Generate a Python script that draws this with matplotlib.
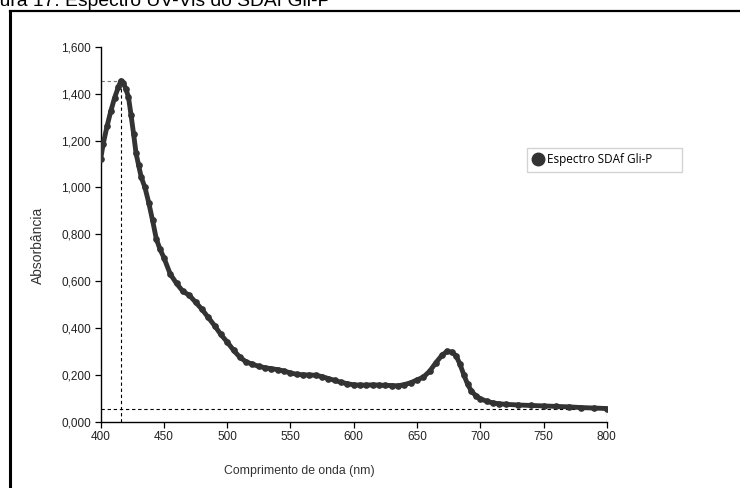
#UV-Vis spectrum of SDAf Gli-P, redrawn from the report figure

#import modules
import matplotlib
matplotlib.use("Agg")
import matplotlib.pyplot as plt
from matplotlib.lines import Line2D
from matplotlib.ticker import FuncFormatter

#Data (wavelength in nm, absorbance)
wavelength = [400, 402, 405, 408, 411, 414, 416, 418, 420, 422, 424, 426, 428, 430,
              432, 435, 438, 441, 444, 447, 450, 455, 460, 465, 470, 475, 480, 485,
              490, 495, 500, 505, 510, 515, 520, 525, 530, 535, 540, 545, 550, 555,
              560, 565, 570, 575, 580, 585, 590, 595, 600, 605, 610, 615, 620, 625,
              630, 635, 640, 645, 650, 655, 660, 665, 670, 674, 678, 681, 684, 687,
              690, 693, 697, 700, 705, 710, 715, 720, 730, 740, 750, 760, 770, 780,
              790, 800]
absorbance = [1.120, 1.185, 1.260, 1.325, 1.382, 1.428, 1.455, 1.445, 1.420, 1.385,
              1.310, 1.230, 1.145, 1.095, 1.045, 1.000, 0.935, 0.860, 0.780, 0.735,
              0.700, 0.630, 0.590, 0.556, 0.540, 0.510, 0.480, 0.445, 0.410, 0.372,
              0.340, 0.305, 0.275, 0.255, 0.245, 0.236, 0.230, 0.226, 0.222, 0.216,
              0.208, 0.202, 0.200, 0.199, 0.198, 0.192, 0.184, 0.176, 0.168, 0.162,
              0.157, 0.156, 0.156, 0.157, 0.156, 0.155, 0.154, 0.153, 0.158, 0.166,
              0.178, 0.190, 0.215, 0.252, 0.285, 0.300, 0.296, 0.280, 0.245, 0.200,
              0.160, 0.130, 0.108, 0.098, 0.087, 0.080, 0.076, 0.074, 0.071, 0.069,
              0.067, 0.065, 0.063, 0.060, 0.058, 0.056]

#Guide lines: peak position and baseline at 800 nm
peak_nm = 416
peak_abs = 1.455
base_abs = 0.056

x_ticks = [400, 450, 500, 550, 600, 650, 700, 750, 800]
y_ticks = [0.0, 0.2, 0.4, 0.6, 0.8, 1.0, 1.2, 1.4, 1.6]

title = "Figura 17: Espectro UV-Vis do SDAf Gli-P"
series_name = "Espectro SDAf Gli-P"

plt.rcParams['font.family'] = ['Liberation Sans', 'DejaVu Sans']

fig = plt.figure(figsize=(7.4, 4.88), dpi=100)
ax = fig.add_axes([0.136, 0.136, 0.684, 0.768])

#Dashed guide lines
dash = (0, (3, 2.5))
ax.plot([peak_nm, peak_nm], [0, peak_abs], color="black", lw=0.8, linestyle=dash, zorder=1)
ax.plot([400, peak_nm], [peak_abs, peak_abs], color="#777777", lw=0.8, linestyle=dash, zorder=1)
ax.plot([400, 800], [base_abs, base_abs], color="black", lw=0.8, linestyle=dash, zorder=1)
ax.plot([800, 800], [0, base_abs], color="black", lw=0.8, linestyle=dash, zorder=1)

#Spectrum
ax.plot(wavelength, absorbance, color="#333333", lw=3.5, marker="o", markersize=3.8,
        solid_capstyle="round", zorder=3, label=series_name)

ax.set_xlim(400, 800)
ax.set_ylim(0, 1.6)
ax.set_xticks(x_ticks)
ax.set_yticks(y_ticks)
ax.yaxis.set_major_formatter(FuncFormatter(lambda v, p: f"{v:.3f}".replace(".", ",")))

for side in ["top", "right"]:
    ax.spines[side].set_visible(False)
for side in ["left", "bottom"]:
    ax.spines[side].set_linewidth(1.0)
ax.tick_params(direction="out", length=4, width=0.9, labelsize=8.5, labelcolor="#222222", pad=3)

ax.set_ylabel("Absorbância", fontsize=10, color="#333333")
ax.yaxis.set_label_coords(-0.11, 0.47)
ax.set_xlabel("Comprimento de onda (nm)", fontsize=8.8, color="#333333")
ax.xaxis.set_label_coords(0.392, -0.115)

#Legend box, stretched to the width of the original one
marker = Line2D([], [], color="#333333", marker="o", markersize=9, linestyle="none")
leg = ax.legend([marker], [series_name], loc="upper left",
                bbox_to_anchor=(0.842, 0.73 - 0.067, 0.306, 0.067), mode="expand",
                borderaxespad=0, frameon=True, fancybox=False, handletextpad=0.3,
                handlelength=1.0, borderpad=0.45,
                prop={"family": ["Open Sans", "DejaVu Sans"], "size": 8.5})
leg.get_frame().set_edgecolor("#c8c8c8")
leg.get_frame().set_linewidth(1.0)

#Outer frame of the report figure (cropped on the right and bottom)
fig.add_artist(Line2D([9.5 / 740, 9.5 / 740], [0, 1 - 11 / 488], color="black", lw=2.2,
                      transform=fig.transFigure, solid_capstyle="projecting"))
fig.add_artist(Line2D([9.5 / 740, 1.0], [1 - 11 / 488, 1 - 11 / 488], color="black", lw=1.6,
                      transform=fig.transFigure, solid_capstyle="projecting"))

#Caption, cut off at the top edge as in the reference
fig.text(-27 / 740, 1 - 6 / 488, title, fontsize=13.9, va="baseline", ha="left",
         family=["Liberation Sans", "DejaVu Sans"])

fig.savefig("out.png", dpi=100)
